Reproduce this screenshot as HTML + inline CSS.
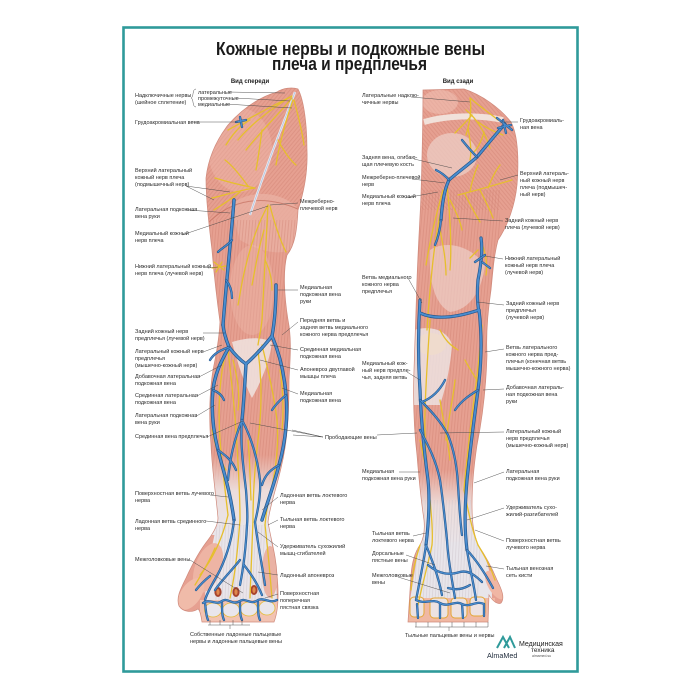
<!DOCTYPE html>
<html><head><meta charset="utf-8">
<style>
html,body{margin:0;padding:0;background:#fff;}
svg{display:block}
text{font-family:"Liberation Sans","DejaVu Sans",sans-serif;}
.l{font-size:5.5px;fill:#2a2a2a;}
.h{font-size:6px;font-weight:bold;fill:#222;}
</style></head><body>
<svg width="700" height="700" viewBox="0 0 700 700" xmlns="http://www.w3.org/2000/svg">
<defs>
<clipPath id="cf"><path id="fs" d="M277,92 C283,88 292,87 298,89 C304,100 307,125 307,150 C308,175 303,195 298,210 C297,230 295,245 287,255 C283,270 284,295 288,320 C292,340 290,360 289,380 C289,410 288,440 281,468 C276,490 270,505 268,522 C271,540 276,555 277,575 C279,595 278,612 274,622 L202,622 C201,615 200,610 198,609 C192,613 183,612 179,606 C176,598 180,590 186,578 C192,565 200,550 208,540 C214,532 218,525 218,518 C216,495 212,470 211,445 C209,420 209,395 213,370 C216,355 219,340 220,322 C217,300 214,275 212,250 C209,225 206,200 206,178 C208,160 215,142 228,125 C243,108 260,97 277,92 Z"/></clipPath>
<clipPath id="cb"><path id="bs" d="M423,90 L464,89 C482,95 500,108 511,122 C518,135 519,160 517,185 C515,205 508,225 498,240 C494,255 493,270 491,290 C488,310 486,335 487,355 C486,390 482,420 477,445 C474,465 472,485 472,505 C472,520 473,532 478,545 C485,555 492,568 497,580 C502,590 505,598 501,603 C497,605 492,600 489,595 L488,622 L408,622 C409,605 410,590 411,575 C412,562 415,552 420,545 C424,538 425,530 424,520 C421,500 419,480 417,455 C414,430 413,400 414,370 C415,340 416,310 417,280 C418,250 420,220 421,195 C422,160 423,120 423,90 Z"/></clipPath>
<pattern id="sv" patternUnits="userSpaceOnUse" width="3" height="6" patternTransform="rotate(5)"><line x1="1" y1="0" x2="1" y2="6" stroke="#c9796b" stroke-width="0.6" opacity="0.55"/></pattern>
<pattern id="sd" patternUnits="userSpaceOnUse" width="3" height="6" patternTransform="rotate(40)"><line x1="1" y1="0" x2="1" y2="6" stroke="#c9796b" stroke-width="0.6" opacity="0.55"/></pattern>
<pattern id="sd2" patternUnits="userSpaceOnUse" width="3" height="6" patternTransform="rotate(-40)"><line x1="1" y1="0" x2="1" y2="6" stroke="#c9796b" stroke-width="0.6" opacity="0.55"/></pattern>
<pattern id="sg" patternUnits="userSpaceOnUse" width="3" height="6" patternTransform="rotate(3)"><line x1="1" y1="0" x2="1" y2="6" stroke="#cfc6cc" stroke-width="0.6" opacity="0.8"/></pattern>
<linearGradient id="gwf" x1="0" y1="0" x2="0" y2="1"><stop offset="0" stop-color="#ece6e6" stop-opacity="0"/><stop offset="0.45" stop-color="#ede7e8" stop-opacity="0.85"/><stop offset="1" stop-color="#e9e6eb"/></linearGradient>

<g id="fvM">
<path d="M234,200 C231,240 226,285 223,325"/>
<path d="M223,325 C224,335 227,342 229,347 C222,360 215,372 213,390 C211,410 213,430 218,450 C223,470 230,490 234,520"/>
<path d="M229,347 C235,355 240,360 246,364"/>
<path d="M276,285 C276,300 275,320 272,336 C265,345 255,356 246,364"/>
<path d="M272,336 C278,350 284,370 286,395 C288,415 286,440 279,465 C274,485 268,500 262,520"/>
<path d="M246,364 C245,380 244,400 242,420"/>
</g>
<g id="fvm">
<path d="M242,420 C236,435 230,455 228,480"/>
<path d="M242,420 C250,435 257,455 260,480 C261,495 258,510 255,522"/>
<path d="M242,420 C240,440 243,465 246,490 C247,505 248,515 247,525"/>
<path d="M213,390 C218,392 222,395 224,400"/>
<path d="M229,347 C222,350 215,352 210,360"/>
<path d="M286,395 C280,400 276,404 272,410"/>
<path d="M218,450 C225,455 232,460 236,470"/>
<path d="M279,465 C270,470 265,475 262,485"/>
<path d="M234,520 C232,540 227,555 220,570 C215,580 208,590 205,600"/>
<path d="M247,525 C246,545 244,565 240,585"/>
<path d="M255,522 C258,545 262,565 265,585"/>
<path d="M240,560 C232,570 222,580 215,590"/>
<path d="M244,565 C252,575 258,585 262,595"/>
<path d="M203,603 C210,598 216,606 222,601 C228,597 232,606 240,601 C246,597 250,606 258,600 C264,597 270,604 277,600"/>
<path d="M205,603 C206,610 206,616 208,620 M222,603 C222,610 222,616 224,620 M240,603 C240,610 240,616 242,620 M258,602 C258,610 258,616 260,620"/>
<path d="M236,122 L246,120 M240,117 L242,127"/>
<path d="M232,240 C228,245 222,248 218,252"/>
<path d="M226,280 C230,285 232,292 232,298"/>
<path d="M196,590 C200,585 205,580 210,576"/>
</g>
<g id="bvM">
<path d="M505,124 C495,135 487,145 477,157 C468,165 458,172 449,180 C444,190 442,205 441,220"/>
<path d="M420,300 C418,330 418,360 420,390 C421,420 424,450 428,480 C430,500 429,520 426,545"/>
<path d="M479,310 C482,335 482,360 478,390 C474,420 470,450 467,480 C465,505 464,525 467,550"/>
<path d="M420,313 C435,320 455,318 479,310"/>
<path d="M481,238 C483,250 481,265 478,280 C477,292 477,302 479,312"/>
</g>
<g id="bvm">
<path d="M497,118 L512,130 M503,120 L506,133 M498,128 L511,125"/>
<path d="M477,157 C470,150 466,145 462,140"/>
<path d="M449,180 C445,175 440,172 436,170"/>
<path d="M420,400 C430,410 440,420 448,435 C454,450 457,465 458,485 C459,500 460,520 462,535"/>
<path d="M420,430 C428,445 436,460 440,480 C443,500 445,520 447,540"/>
<path d="M445,380 C440,390 432,398 422,402"/>
<path d="M478,390 C470,395 462,400 455,410"/>
<path d="M426,545 C424,560 420,580 416,600"/>
<path d="M426,545 C432,560 438,575 442,595"/>
<path d="M447,540 C448,560 452,580 455,598"/>
<path d="M467,550 C470,570 474,585 476,600"/>
<path d="M467,550 C478,562 486,575 493,588"/>
<path d="M428,565 C440,575 450,575 460,572 C468,570 475,575 482,582"/>
<path d="M416,600 C425,605 432,598 440,603 C448,608 455,600 462,604 C470,608 476,600 484,604"/>
<path d="M470,585 C462,590 455,590 448,588"/>
<path d="M441,220 C440,230 438,238 435,245"/>
<path d="M485,255 L475,262 M482,262 L490,268"/>
<path d="M417,604 L418,618 M440,604 L440,618 M462,604 L463,618 M484,604 L484,616"/>
</g>
</defs>

<rect x="0" y="0" width="700" height="700" fill="#fff"/>
<rect x="123.5" y="27.5" width="454" height="644" fill="#fff" stroke="#2f9a9a" stroke-width="2.6"/>

<!-- Title -->
<text x="350.5" y="55" text-anchor="middle" font-size="18.5" font-weight="bold" fill="#1a1a1a" textLength="269" lengthAdjust="spacingAndGlyphs">Кожные нервы и подкожные вены</text>
<text x="349.5" y="70" text-anchor="middle" font-size="18.5" font-weight="bold" fill="#1a1a1a" textLength="155" lengthAdjust="spacingAndGlyphs">плеча и предплечья</text>
<text class="h" x="250" y="83" text-anchor="middle">Вид спереди</text>
<text class="h" x="458" y="83" text-anchor="middle">Вид сзади</text>

<!-- FRONT ARM -->
<g clip-path="url(#cf)">
<rect x="170" y="80" width="140" height="550" fill="#e6a091"/>
<rect x="170" y="80" width="140" height="140" fill="url(#sd)"/>
<ellipse cx="240" cy="150" rx="32" ry="42" fill="#efbcae" opacity="0.4"/>
<path d="M230,205 C255,185 290,195 300,212 L296,245 C285,258 260,252 240,240 Z" fill="#eab0a3" opacity="0.8"/>
<path d="M206,225 C225,205 255,190 300,210" stroke="#c46f60" stroke-width="1" fill="none" opacity="0.7"/>
<path d="M295,92 C285,120 268,160 250,215" stroke="#ede6ea" stroke-width="2.4" fill="none"/>
<path d="M295,92 C285,120 268,160 250,215" stroke="#a9c6e6" stroke-width="0.7" fill="none"/>
<rect x="200" y="220" width="100" height="260" fill="url(#sv)"/>
<ellipse cx="252" cy="290" rx="22" ry="45" fill="#efbcae" opacity="0.35"/>
<path d="M232,342 C245,338 260,336 272,342 C270,360 262,380 252,398 C245,385 238,365 232,342 Z" fill="#eee0dd" opacity="0.9"/>
<rect x="200" y="455" width="95" height="80" fill="url(#gwf)"/>
<path d="M216,528 L268,522 C272,545 276,565 277,600 L205,602 C205,580 210,555 216,528 Z" fill="#e9e5ea"/>
<rect x="215" y="525" width="50" height="75" fill="url(#sg)"/>
<ellipse cx="208" cy="568" rx="13" ry="26" fill="#eeb4a4" transform="rotate(20 208 568)"/>
<ellipse cx="191" cy="594" rx="10" ry="18" fill="#f0bba9" transform="rotate(35 191 594)"/>
<ellipse cx="270" cy="572" rx="8" ry="26" fill="#eab2a4"/>
<rect x="200" y="600" width="80" height="24" fill="#f2c3b2"/>
<ellipse cx="213" cy="610" rx="8.5" ry="7" fill="#e9e6ec" stroke="#e4bc3a" stroke-width="0.8"/>
<ellipse cx="231" cy="610" rx="8.5" ry="7" fill="#e9e6ec" stroke="#e4bc3a" stroke-width="0.8"/>
<ellipse cx="249" cy="609" rx="8.5" ry="7" fill="#e9e6ec" stroke="#e4bc3a" stroke-width="0.8"/>
<ellipse cx="267" cy="608" rx="8" ry="7" fill="#e9e6ec" stroke="#e4bc3a" stroke-width="0.8"/>
<ellipse cx="218" cy="592" rx="3.6" ry="5" fill="#a8442e"/>
<ellipse cx="236" cy="592" rx="3.6" ry="5" fill="#a8442e"/>
<ellipse cx="254" cy="590" rx="3.6" ry="5" fill="#a8442e"/>
<ellipse cx="218" cy="592" rx="1.6" ry="3" fill="#e0884e"/>
<ellipse cx="236" cy="592" rx="1.6" ry="3" fill="#e0884e"/>
<ellipse cx="254" cy="590" rx="1.6" ry="3" fill="#e0884e"/>
</g>
<use href="#fs" fill="none" stroke="#cf8a7c" stroke-width="0.7"/>
<!-- front nerves -->
<g fill="none" stroke="#e6bf2c" stroke-width="1.3" stroke-linecap="round">
<path d="M292,96 C275,105 255,115 228,130"/>
<path d="M292,98 C278,115 262,130 246,150"/>
<path d="M293,100 C286,120 280,140 276,165"/>
<path d="M294,100 C298,115 302,130 304,145"/>
<path d="M290,97 C270,110 250,125 238,140"/>
<path d="M262,130 C260,145 258,160 256,170"/>
<path d="M250,120 C240,125 232,135 226,145"/>
<path d="M278,140 C283,150 290,160 296,165"/>
<path d="M255,188 C240,185 228,182 215,178"/>
<path d="M255,188 C240,190 225,195 212,198"/>
<path d="M248,186 C240,175 232,165 225,160"/>
<path d="M240,192 C230,200 222,205 214,210"/>
<path d="M268,205 C266,240 264,280 262,320 C261,330 259,338 258,345"/>
<path d="M268,205 C260,220 252,240 246,265 C242,280 240,295 238,305"/>
<path d="M270,206 C275,225 280,240 286,252"/>
<path d="M264,230 C258,250 255,270 252,285"/>
<path d="M265,260 C270,270 272,280 272,290"/>
<path d="M214,262 L224,270 M216,272 L222,262 M212,268 L226,266"/>
<path d="M227,340 C230,370 234,400 236,430 C238,460 240,490 240,520"/>
<path d="M224,360 C219,385 218,410 220,440 C222,465 225,490 228,515"/>
<path d="M233,360 C238,380 240,395 238,410"/>
<path d="M262,345 C268,370 274,395 277,420 C279,445 276,470 270,495 C267,505 266,515 265,525"/>
<path d="M258,350 C262,380 262,410 258,440 C255,465 253,490 253,520"/>
<path d="M280,370 C283,390 284,410 282,430"/>
<path d="M248,440 C250,460 250,480 251,500"/>
<path d="M212,430 C215,445 220,460 226,470"/>
<path d="M240,520 C238,545 236,570 230,598"/>
<path d="M253,520 C252,545 251,570 250,598"/>
<path d="M265,525 C268,550 270,575 272,598"/>
<path d="M228,515 C222,540 212,560 200,575"/>
<path d="M215,548 C210,560 203,572 195,585"/>
</g>
<use href="#fvM" fill="none" stroke="#22548a" stroke-width="3.4" stroke-linecap="round"/>
<use href="#fvM" fill="none" stroke="#4a8dcf" stroke-width="2" stroke-linecap="round"/>
<use href="#fvm" fill="none" stroke="#22548a" stroke-width="2.3" stroke-linecap="round"/>
<use href="#fvm" fill="none" stroke="#4a8dcf" stroke-width="1.2" stroke-linecap="round"/>

<!-- BACK ARM -->
<g clip-path="url(#cb)">
<rect x="400" y="80" width="130" height="550" fill="#e6a091"/>
<rect x="400" y="80" width="130" height="130" fill="url(#sd2)"/>
<ellipse cx="440" cy="102" rx="18" ry="12" fill="#f1c6ba" opacity="0.5"/>
<path d="M424,122 C445,116 475,114 503,120" stroke="#f1e1da" stroke-width="6" fill="none"/>
<ellipse cx="452" cy="155" rx="25" ry="22" fill="#eccec6" opacity="0.75"/>
<rect x="410" y="190" width="90" height="300" fill="url(#sv)"/>
<path d="M430,250 C445,240 470,245 485,265 C482,290 470,310 450,312 C435,305 428,280 430,250 Z" fill="#eed3cc" opacity="0.65"/>
<path d="M414,330 C430,325 448,330 452,345 C450,370 445,390 440,405 L414,405 Z" fill="#ece2e1" opacity="0.85"/>
<ellipse cx="431" cy="344" rx="15" ry="11" fill="#f0dccc" opacity="0.9"/>
<rect x="405" y="470" width="90" height="80" fill="url(#gwf)"/>
<path d="M419,545 L476,540 C485,555 492,570 492,598 L410,600 Z" fill="#e8e5ea"/>
<rect x="415" y="500" width="65" height="100" fill="url(#sg)"/>
<ellipse cx="495" cy="585" rx="7" ry="16" fill="#f0b6a4" transform="rotate(-30 495 585)"/>
<rect x="405" y="598" width="90" height="26" fill="#f0b8a3"/>
<rect x="410" y="597" width="14" height="20" rx="4" fill="#ece2e2" stroke="#e3a634" stroke-width="1"/>
<rect x="430" y="598" width="18" height="20" rx="4" fill="#ece2e2" stroke="#e3a634" stroke-width="1"/>
<rect x="451" y="598" width="16" height="20" rx="4" fill="#ece2e2" stroke="#e3a634" stroke-width="1"/>
<rect x="470" y="597" width="15" height="19" rx="4" fill="#ece2e2" stroke="#e3a634" stroke-width="1"/>
</g>
<use href="#bs" fill="none" stroke="#cf8a7c" stroke-width="0.7"/>
<g fill="none" stroke="#e6bf2c" stroke-width="1.3" stroke-linecap="round">
<path d="M470,98 C472,110 470,122 466,135"/>
<path d="M470,98 C478,105 488,112 498,120"/>
<path d="M466,110 C476,118 484,130 490,148"/>
<path d="M472,115 C466,122 460,128 455,133"/>
<path d="M478,122 C486,128 495,132 503,135"/>
<path d="M484,132 C482,140 478,148 474,152"/>
<path d="M468,128 C470,140 472,150 470,160"/>
<path d="M512,180 C495,185 478,190 458,195"/>
<path d="M488,188 C492,178 496,170 500,165"/>
<path d="M480,190 C485,200 490,210 493,218"/>
<path d="M470,192 C472,180 475,172 478,165"/>
<path d="M465,194 C470,205 476,215 480,222"/>
<path d="M447,185 C440,210 435,240 432,270 C430,290 428,310 427,330"/>
<path d="M447,185 C450,215 452,245 450,270"/>
<path d="M443,190 C436,215 430,240 426,265"/>
<path d="M450,200 C455,210 460,220 462,230"/>
<path d="M440,230 C443,245 446,260 446,275"/>
<path d="M480,240 C485,250 488,262 486,275 M478,250 L470,258"/>
<path d="M430,320 C428,350 426,380 425,410 C424,440 427,470 430,500 C432,520 433,535 432,545"/>
<path d="M482,325 C480,355 476,385 472,415 C469,440 466,465 464,490"/>
<path d="M440,330 C445,340 450,345 458,350"/>
<path d="M465,360 C470,370 476,378 480,385"/>
<path d="M440,400 C443,420 448,440 450,460"/>
<path d="M455,380 C453,400 448,420 446,440"/>
<path d="M420,440 C423,455 425,465 428,475"/>
<path d="M432,545 C428,565 422,585 418,605"/>
<path d="M464,490 C468,510 472,530 478,545 C484,555 490,565 495,580"/>
<path d="M420,545 C415,560 412,575 411,590"/>
</g>
<use href="#bvM" fill="none" stroke="#22548a" stroke-width="3.2" stroke-linecap="round"/>
<use href="#bvM" fill="none" stroke="#4a8dcf" stroke-width="1.9" stroke-linecap="round"/>
<use href="#bvm" fill="none" stroke="#22548a" stroke-width="2.3" stroke-linecap="round"/>
<use href="#bvm" fill="none" stroke="#4a8dcf" stroke-width="1.2" stroke-linecap="round"/>

<!-- leader lines -->
<path fill="none" stroke="#444" stroke-width="0.45" d="
M196,89 C192,89 194,97 191,98 C194,99 192,107 196,107
M228,92 L285,93 M235,98 L290,101 M225,104 L292,108
M191,122 L238,122
M186,186 L230,192 M186,186 L214,200
M188,210 L230,213
M182,235 L268,206
M208,268 L218,267
M298,203 L270,205
M298,290 L278,290
M298,322 L282,335
M203,333 L225,333
M203,352 L222,345
M197,378 L222,365
M195,397 L218,385
M195,417 L215,405
M207,437 L243,421
M323,437 L292,430 M323,437 L293,435 M323,437 L250,423
M298,350 L270,345
M298,370 L260,360
M298,394 L282,388
M210,495 L228,497
M206,521 L240,525
M190,560 L243,593
M278,497 L262,510
M278,520 L268,525
M278,547 L258,532
M278,575 L258,572
M278,594 L265,598
M208,625 L250,625 M210,625 L210,620 M220,625 L220,620 M233,625 L233,620 M242,625 L242,620 M230,625 L230,629
M411,97 L470,102
M500,122 L518,122
M414,159 L452,168
M412,179 L445,183
M405,198 L438,192
M500,180 L518,175
M453,218 L503,221
M485,256 L503,259
M408,278 L422,303
M477,302 L504,305
M485,352 L504,349
M407,372 L420,380
M483,390 L504,389
M377,435 L417,433
M440,433 L504,432
M399,472 L420,472
M474,483 L504,472
M467,520 L504,508
M413,536 L426,533
M406,555 L435,565
M398,577 L450,593
M475,530 L504,541
M486,566 L504,569
M415,627 L488,627 M416,627 L416,622 M428,627 L428,622 M440,627 L440,622 M452,627 L452,622 M464,627 L464,622 M476,627 L476,622 M488,627 L488,622 M449,627 L449,631
"/>

<!-- labels front-left -->
<text class="l"><tspan x="135" y="97">Надключичные нервы</tspan><tspan x="135" y="104">(шейное сплетение)</tspan></text>
<text class="l"><tspan x="198" y="94">латеральные</tspan><tspan x="198" y="100">промежуточные</tspan><tspan x="198" y="106">медиальные</tspan></text>
<text class="l" x="135" y="124">Грудоакромиальная вена</text>
<text class="l"><tspan x="135" y="172">Верхний латеральный</tspan><tspan x="135" y="179">кожный нерв плеча</tspan><tspan x="135" y="186">(подмышечный нерв)</tspan></text>
<text class="l"><tspan x="135" y="211">Латеральная подкожная</tspan><tspan x="135" y="218">вена руки</tspan></text>
<text class="l"><tspan x="135" y="235">Медиальный кожный</tspan><tspan x="135" y="242">нерв плеча</tspan></text>
<text class="l"><tspan x="135" y="268">Нижний латеральный кожный</tspan><tspan x="135" y="275">нерв плеча (лучевой нерв)</tspan></text>
<text class="l"><tspan x="135" y="333">Задний кожный нерв</tspan><tspan x="135" y="340">предплечья (лучевой нерв)</tspan></text>
<text class="l"><tspan x="135" y="353">Латеральный кожный нерв</tspan><tspan x="135" y="360">предплечья</tspan><tspan x="135" y="367">(мышечно-кожный нерв)</tspan></text>
<text class="l"><tspan x="135" y="378">Добавочная латеральная</tspan><tspan x="135" y="385">подкожная вена</tspan></text>
<text class="l"><tspan x="135" y="397">Срединная латеральная</tspan><tspan x="135" y="404">подкожная вена</tspan></text>
<text class="l"><tspan x="135" y="417">Латеральная подкожная</tspan><tspan x="135" y="424">вена руки</tspan></text>
<text class="l" x="135" y="438">Срединная вена предплечья</text>
<text class="l"><tspan x="135" y="495">Поверхностная ветвь лучевого</tspan><tspan x="135" y="502">нерва</tspan></text>
<text class="l"><tspan x="135" y="523">Ладонная ветвь срединного</tspan><tspan x="135" y="530">нерва</tspan></text>
<text class="l" x="135" y="561">Межголовковые вены</text>
<!-- front-right -->
<text class="l"><tspan x="300" y="203">Межреберно-</tspan><tspan x="300" y="210">плечевой нерв</tspan></text>
<text class="l"><tspan x="300" y="289">Медиальная</tspan><tspan x="300" y="296">подкожная вена</tspan><tspan x="300" y="303">руки</tspan></text>
<text class="l"><tspan x="300" y="322">Передняя ветвь и</tspan><tspan x="300" y="329">задняя ветвь медиального</tspan><tspan x="300" y="336">кожного нерва предплечья</tspan></text>
<text class="l"><tspan x="300" y="351">Срединная медиальная</tspan><tspan x="300" y="358">подкожная вена</tspan></text>
<text class="l"><tspan x="300" y="371">Апоневроз двуглавой</tspan><tspan x="300" y="378">мышцы плеча</tspan></text>
<text class="l"><tspan x="300" y="395">Медиальная</tspan><tspan x="300" y="402">подкожная вена</tspan></text>
<text class="l" x="325" y="439">Прободающие вены</text>
<text class="l"><tspan x="280" y="497">Ладонная ветвь локтевого</tspan><tspan x="280" y="504">нерва</tspan></text>
<text class="l"><tspan x="280" y="521">Тыльная ветвь локтевого</tspan><tspan x="280" y="528">нерва</tspan></text>
<text class="l"><tspan x="280" y="548">Удерживатель сухожилий</tspan><tspan x="280" y="555">мышц-сгибателей</tspan></text>
<text class="l" x="280" y="577">Ладонный апоневроз</text>
<text class="l"><tspan x="280" y="595">Поверхностная</tspan><tspan x="280" y="602">поперечная</tspan><tspan x="280" y="609">пястная связка</tspan></text>
<text class="l"><tspan x="190" y="636">Собственные ладонные пальцевые</tspan><tspan x="190" y="643">нервы и ладонные пальцевые вены</tspan></text>
<!-- back-left -->
<text class="l"><tspan x="362" y="97">Латеральные надклю-</tspan><tspan x="362" y="104">чичные нервы</tspan></text>
<text class="l"><tspan x="362" y="159">Задняя вена, огибаю-</tspan><tspan x="362" y="166">щая плечевую кость</tspan></text>
<text class="l"><tspan x="362" y="179">Межреберно-плечевой</tspan><tspan x="362" y="186">нерв</tspan></text>
<text class="l"><tspan x="362" y="198">Медиальный кожный</tspan><tspan x="362" y="205">нерв плеча</tspan></text>
<text class="l"><tspan x="362" y="279">Ветвь медиального</tspan><tspan x="362" y="286">кожного нерва</tspan><tspan x="362" y="293">предплечья</tspan></text>
<text class="l"><tspan x="362" y="365">Медиальный кож-</tspan><tspan x="362" y="372">ный нерв предпле-</tspan><tspan x="362" y="379">чья, задняя ветвь</tspan></text>
<text class="l"><tspan x="362" y="473">Медиальная</tspan><tspan x="362" y="480">подкожная вена руки</tspan></text>
<text class="l"><tspan x="372" y="535">Тыльная ветвь</tspan><tspan x="372" y="542">локтевого нерва</tspan></text>
<text class="l"><tspan x="372" y="555">Дорсальные</tspan><tspan x="372" y="562">пястные вены</tspan></text>
<text class="l"><tspan x="372" y="577">Межголовковые</tspan><tspan x="372" y="584">вены</tspan></text>
<text class="l" x="405" y="637">Тыльные пальцевые вены и нервы</text>
<!-- back-right -->
<text class="l"><tspan x="520" y="122">Грудоакромиаль-</tspan><tspan x="520" y="129">ная вена</tspan></text>
<text class="l"><tspan x="520" y="175">Верхний латераль-</tspan><tspan x="520" y="182">ный кожный нерв</tspan><tspan x="520" y="189">плеча (подмышеч-</tspan><tspan x="520" y="196">ный нерв)</tspan></text>
<text class="l"><tspan x="505" y="222">Задний кожный нерв</tspan><tspan x="505" y="229">плеча (лучевой нерв)</tspan></text>
<text class="l"><tspan x="505" y="260">Нижний латеральный</tspan><tspan x="505" y="267">кожный нерв плеча</tspan><tspan x="505" y="274">(лучевой нерв)</tspan></text>
<text class="l"><tspan x="506" y="305">Задний кожный нерв</tspan><tspan x="506" y="312">предплечья</tspan><tspan x="506" y="319">(лучевой нерв)</tspan></text>
<text class="l"><tspan x="506" y="349">Ветвь латерального</tspan><tspan x="506" y="356">кожного нерва пред-</tspan><tspan x="506" y="363">плечья (конечная ветвь</tspan><tspan x="506" y="370">мышечно-кожного нерва)</tspan></text>
<text class="l"><tspan x="506" y="389">Добавочная латераль-</tspan><tspan x="506" y="396">ная подкожная вена</tspan><tspan x="506" y="403">руки</tspan></text>
<text class="l"><tspan x="506" y="433">Латеральный кожный</tspan><tspan x="506" y="440">нерв предплечья</tspan><tspan x="506" y="447">(мышечно-кожный нерв)</tspan></text>
<text class="l"><tspan x="506" y="473">Латеральная</tspan><tspan x="506" y="480">подкожная вена руки</tspan></text>
<text class="l"><tspan x="506" y="509">Удерживатель сухо-</tspan><tspan x="506" y="516">жилий-разгибателей</tspan></text>
<text class="l"><tspan x="506" y="542">Поверхностная ветвь</tspan><tspan x="506" y="549">лучевого нерва</tspan></text>
<text class="l"><tspan x="506" y="570">Тыльная венозная</tspan><tspan x="506" y="577">сеть кисти</tspan></text>

<!-- logo -->
<path d="M497,648 L503,637 L509,648 M504,648 L510,637 L515,648" fill="none" stroke="#2f9a9a" stroke-width="2"/>
<text x="519" y="646" font-size="7" fill="#222">Медицинская</text>
<text x="531" y="652" font-size="6.5" fill="#222">техника</text>
<text x="487" y="658" font-size="7.2" fill="#1e2a3a">AlmaMed</text>
<text x="532" y="657" font-size="3.5" fill="#555">almamed.su</text>
</svg>
</body></html>
